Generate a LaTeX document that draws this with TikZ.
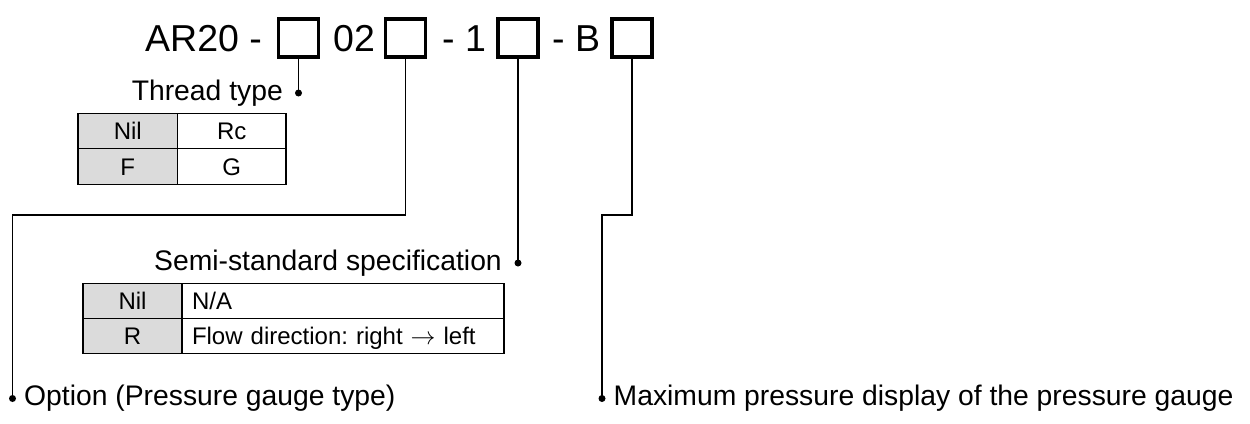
\documentclass[tikz,border=0pt]{standalone}
\usepackage{fontspec}
\setmainfont{Liberation Sans}
\begin{document}
\frenchspacing
\begin{tikzpicture}[x=1pt,y=-1pt,
  every node/.style={inner sep=0pt},
  titlefont/.style={font=\fontsize{37.5}{40}\selectfont},
  labfont/.style={font=\fontsize{28.3}{32}\selectfont},
  tabfont/.style={font=\fontsize{24}{26}\selectfont, text height=17pt, text depth=0pt},
  codebox/.style={draw, line width=3.5pt, minimum width=40pt, minimum height=38pt},
  dot/.style={circle, fill=black, minimum size=7pt},
  conn/.style={line width=1.5pt},
  shcell/.style={tabfont, draw, line width=1.2pt, fill=black!14, minimum height=35.5pt},
  whcell/.style={tabfont, draw, line width=1.2pt, fill=white, minimum height=35.5pt},
]
\useasboundingbox (0,0) rectangle (1250,423);
% title row
\node[titlefont, anchor=base west] (t1) at (145,51) {AR20 -};
\node[codebox] (b1) at (298.5,38) {};
\node[titlefont, anchor=base west] (t2) at (333,51) {02};
\node[codebox] (b2) at (405.5,38) {};
\node[titlefont, anchor=base west] (t3) at (442,51) {- 1};
\node[codebox] (b3) at (518,38) {};
\node[titlefont, anchor=base west] (t4) at (552,51) {- B};
\node[codebox] (b4) at (632,38) {};
% dots and corner coordinates
\node[dot] (d1) at (298.5,93) {};
\node[dot] (d3) at (518,263) {};
\node[dot] (d2) at (12.5,398.5) {};
\node[dot] (d4) at (602,398.5) {};
\coordinate (c2a) at (405.5,215);
\coordinate (c2b) at (12.5,215);
\coordinate (c4a) at (632,215);
\coordinate (c4b) at (602,215);
% connectors
\draw[conn] (b1.south) -- (d1.center);
\draw[conn] (b3.south) -- (d3.center);
\draw[conn] (b2.south) -- (c2a) -- (c2b) -- (d2.center);
\draw[conn] (b4.south) -- (c4a) -- (c4b) -- (d4.center);
% labels
\node[labfont, anchor=base east] (l1) at (283,100) {Thread type};
\node[labfont, anchor=base east] (l3) at (502,270) {Semi-standard specification};
\node[labfont, anchor=base west] (l2) at (24,405.5) {Option (Pressure gauge type)};
\node[labfont, anchor=base west] (l4) at (613.5,405.5) {Maximum pressure display of the pressure gauge};
% table 1
\node[shcell, minimum width=99.5pt] (a11) at (127.75,131) {Nil};
\node[whcell, minimum width=108.5pt] (a12) at (231.75,131) {Rc};
\node[shcell, minimum width=99.5pt] (a21) at (127.75,166.5) {F};
\node[whcell, minimum width=108.5pt] (a22) at (231.75,166.5) {G};
% table 2
\node[shcell, minimum width=99pt] (s11) at (132.5,301) {Nil};
\node[whcell, minimum width=322pt, text width=302pt, inner xsep=10pt, align=left] (s12) at (343,301) {N/A};
\node[shcell, minimum width=99pt] (s21) at (132.5,336) {R};
\node[whcell, minimum width=322pt, text width=302pt, inner xsep=10pt, align=left] (s22) at (343,336) {Flow direction: right $\rightarrow$ left};
\end{tikzpicture}
\end{document}
